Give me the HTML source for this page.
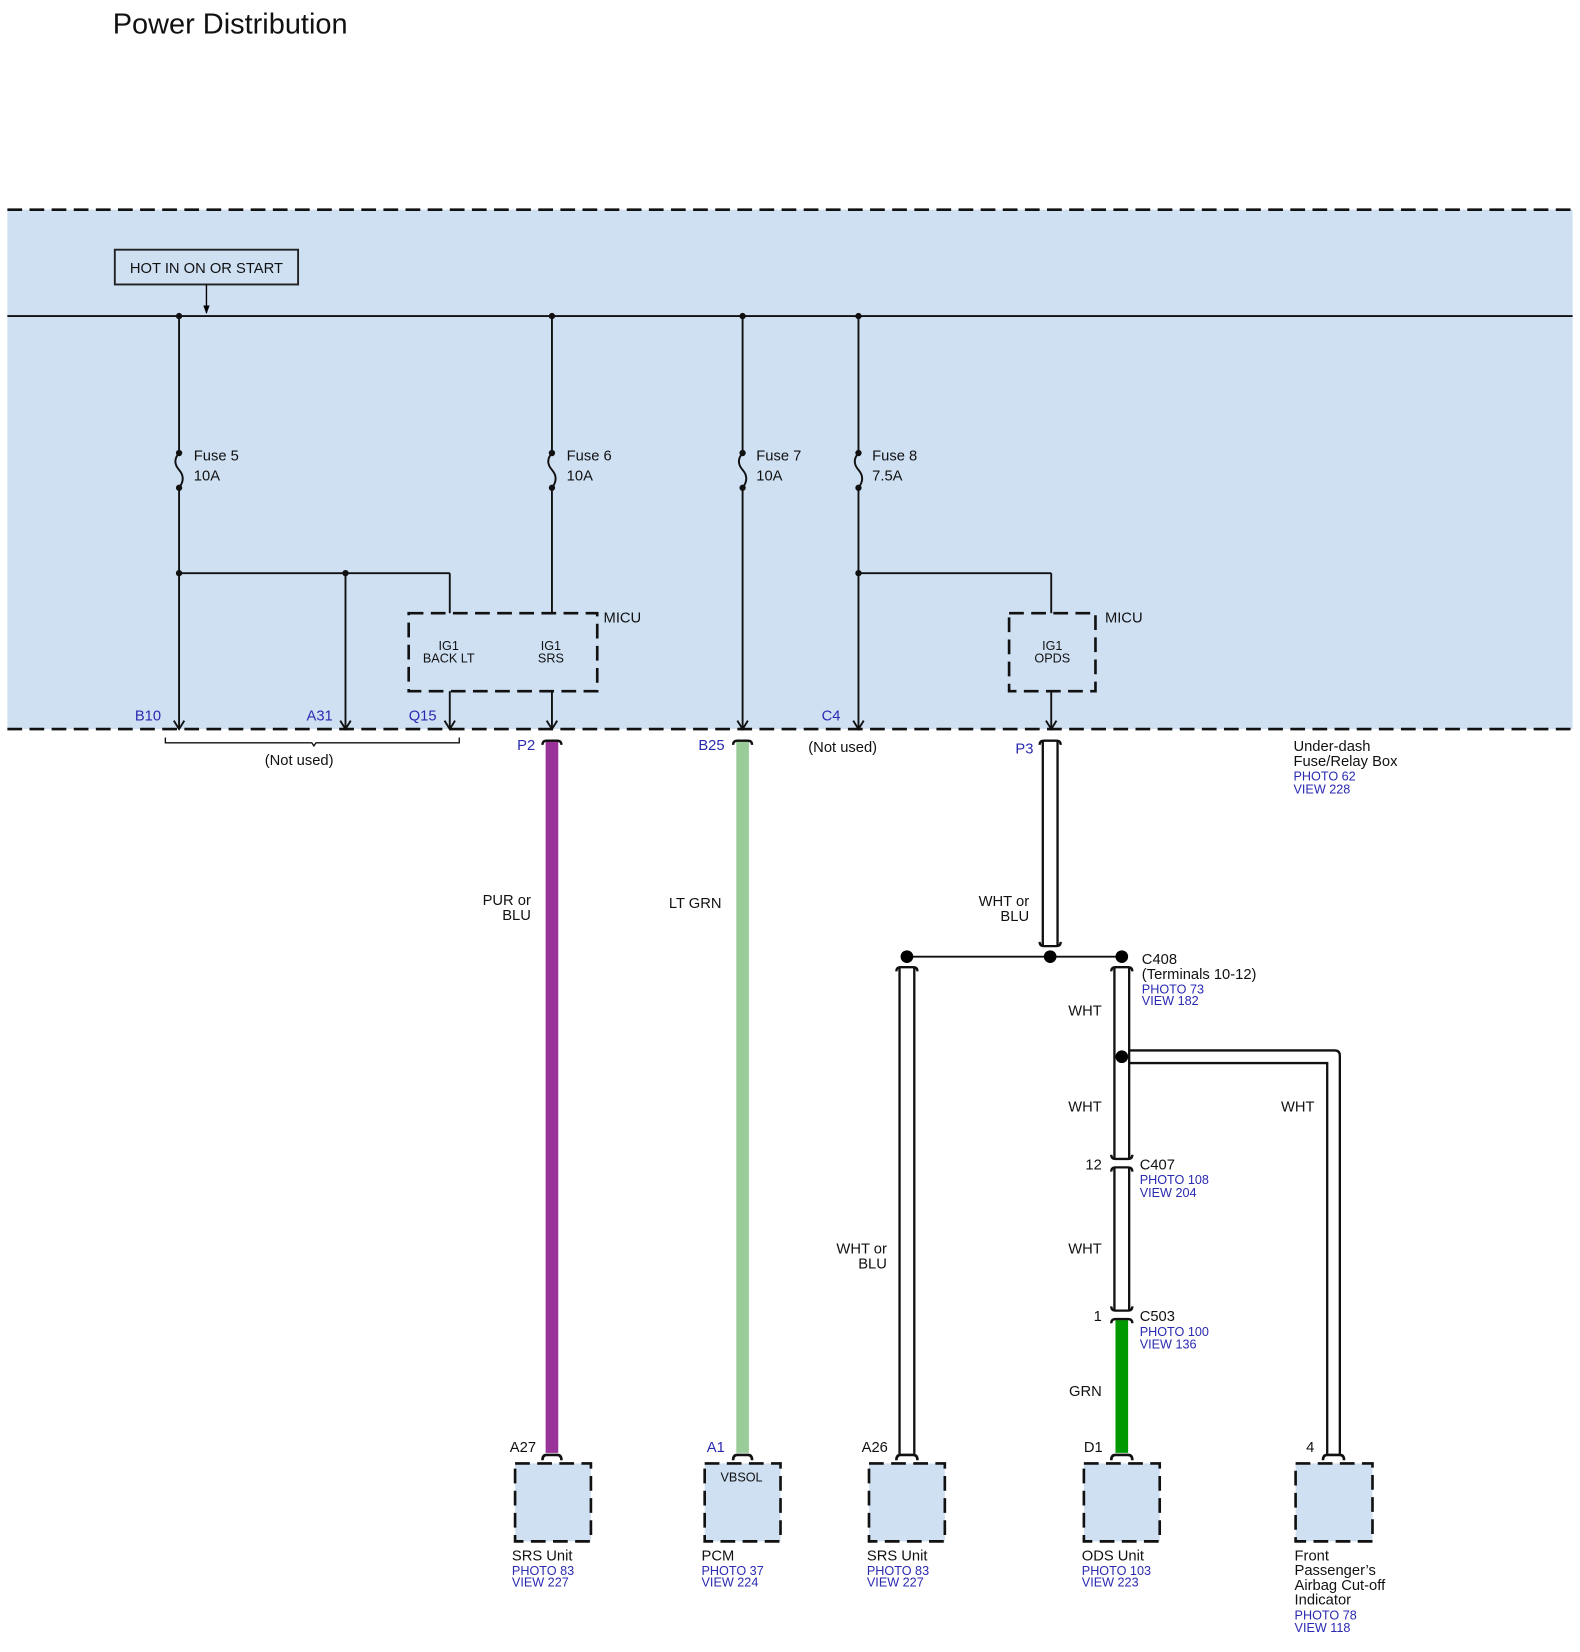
<!DOCTYPE html>
<html><head><meta charset="utf-8"><style>
html,body{margin:0;padding:0;background:#fff;}
svg{display:block;}
text{font-family:"Liberation Sans",Arial,sans-serif;fill:#111;}
.b{fill:#2a2ab0;}
.s{font-size:12px;}
.m{font-size:14px;}
</style></head><body>
<svg width="1580" height="1652" viewBox="0 0 1500 1568" preserveAspectRatio="none" xmlns="http://www.w3.org/2000/svg">
<text x="107" y="32" style="font-size:27.5px">Power Distribution</text>

<rect x="7" y="199" width="1486" height="493" fill="#cfe0f3"/>
<line x1="7" y1="199" x2="1493" y2="199" stroke="#111" stroke-width="2.5" stroke-dasharray="14,7"/>
<line x1="7" y1="692" x2="1493" y2="692" stroke="#111" stroke-width="2.5" stroke-dasharray="14,7"/>

<rect x="109" y="237" width="174" height="33" fill="none" stroke="#222" stroke-width="1.8"/>
<text x="196" y="259" text-anchor="middle" class="m">HOT IN ON OR START</text>
<line x1="196" y1="270" x2="196" y2="297" stroke="#000" stroke-width="1.3"/>
<path d="M193,290 L196,298 L199,290 Z" fill="#000"/>
<line x1="7" y1="300" x2="1493" y2="300" stroke="#111" stroke-width="1.8"/>

<g stroke="#111" stroke-width="1.8" fill="none">
<line x1="170" y1="300" x2="170" y2="430"/>
<path d="M170,430 q-7,8 0,16 q7,8 0,17"/>
<line x1="170" y1="463" x2="170" y2="692"/>
<line x1="170" y1="544" x2="427" y2="544"/>
<line x1="328" y1="544" x2="328" y2="692"/>
<line x1="427" y1="544" x2="427" y2="582"/>
<line x1="524" y1="300" x2="524" y2="430"/>
<path d="M524,430 q-7,8 0,16 q7,8 0,17"/>
<line x1="524" y1="463" x2="524" y2="582"/>
<line x1="427" y1="656" x2="427" y2="692"/>
<line x1="524" y1="656" x2="524" y2="692"/>
<line x1="705" y1="300" x2="705" y2="430"/>
<path d="M705,430 q-7,8 0,16 q7,8 0,17"/>
<line x1="705" y1="463" x2="705" y2="692"/>
<line x1="815" y1="300" x2="815" y2="430"/>
<path d="M815,430 q-7,8 0,16 q7,8 0,17"/>
<line x1="815" y1="463" x2="815" y2="692"/>
<line x1="815" y1="544" x2="998" y2="544"/>
<line x1="998" y1="544" x2="998" y2="582"/>
<line x1="998" y1="656" x2="998" y2="692"/>
</g>
<g stroke="#111" stroke-width="1.8" fill="none">
<path d="M165,684 L170,692 L175,684"/>
<path d="M323,684 L328,692 L333,684"/>
<path d="M422,684 L427,692 L432,684"/>
<path d="M519,684 L524,692 L529,684"/>
<path d="M700,684 L705,692 L710,684"/>
<path d="M810,684 L815,692 L820,684"/>
<path d="M993,684 L998,692 L1003,684"/>
</g>
<g fill="#111">
<circle cx="170" cy="300" r="3"/><circle cx="524" cy="300" r="3"/><circle cx="705" cy="300" r="3"/><circle cx="815" cy="300" r="3"/>
<circle cx="170" cy="430" r="3"/><circle cx="170" cy="463" r="3"/>
<circle cx="524" cy="430" r="3"/><circle cx="524" cy="463" r="3"/>
<circle cx="705" cy="430" r="3"/><circle cx="705" cy="463" r="3"/>
<circle cx="815" cy="430" r="3"/><circle cx="815" cy="463" r="3"/>
<circle cx="170" cy="544" r="3"/><circle cx="328" cy="544" r="3"/><circle cx="815" cy="544" r="3"/>
</g>
<text x="184" y="437" class="m">Fuse 5</text><text x="184" y="456" class="m">10A</text>
<text x="538" y="437" class="m">Fuse 6</text><text x="538" y="456" class="m">10A</text>
<text x="718" y="437" class="m">Fuse 7</text><text x="718" y="456" class="m">10A</text>
<text x="828" y="437" class="m">Fuse 8</text><text x="828" y="456" class="m">7.5A</text>

<rect x="388" y="582" width="179" height="74" fill="none" stroke="#111" stroke-width="2.5" stroke-dasharray="14,7"/>
<text x="573" y="591" class="m">MICU</text>
<text x="426" y="617" text-anchor="middle" class="s">IG1</text><text x="426" y="629" text-anchor="middle" class="s">BACK LT</text>
<text x="523" y="617" text-anchor="middle" class="s">IG1</text><text x="523" y="629" text-anchor="middle" class="s">SRS</text>
<rect x="958" y="582" width="82" height="74" fill="none" stroke="#111" stroke-width="2.5" stroke-dasharray="14,7"/>
<text x="1049" y="591" class="m">MICU</text>
<text x="999" y="617" text-anchor="middle" class="s">IG1</text><text x="999" y="629" text-anchor="middle" class="s">OPDS</text>

<text x="128" y="684" class="b m">B10</text>
<text x="291" y="684" class="b m">A31</text>
<text x="388" y="684" class="b m">Q15</text>
<text x="780" y="684" class="b m">C4</text>
<text x="491" y="712" class="b m">P2</text>
<text x="663" y="712" class="b m">B25</text>
<text x="964" y="715" class="b m">P3</text>
<path d="M157,700 v5 h139 l2,3 l2,-3 h136 v-5" fill="none" stroke="#111" stroke-width="1.3"/>
<text x="284" y="726" text-anchor="middle" class="m">(Not used)</text>
<text x="800" y="714" text-anchor="middle" class="m">(Not used)</text>
<text x="1228" y="713" class="m">Under-dash</text>
<text x="1228" y="727" class="m">Fuse/Relay Box</text>
<text x="1228" y="741" class="b s">PHOTO 62</text>
<text x="1228" y="753" class="b s">VIEW 228</text>

<rect x="518" y="703" width="12" height="676" fill="#993399"/>
<rect x="699" y="703" width="12" height="676" fill="#99cc99"/>
<rect x="1059" y="1253" width="12" height="126" fill="#009900"/>
<g stroke="#111" stroke-width="2.2" fill="none">
<path d="M990,703 V898 M1004,703 V898"/>
<path d="M854,918 V1380 M868,918 V1380"/>
<path d="M1058,918 V1100 M1072,918 V1100"/>
<path d="M1058,1108 V1244 M1072,1108 V1244"/>
<path d="M1072,997 H1267 q5,0 5,5 V1380 M1072,1009 H1260 V1380"/>
<line x1="861" y1="908" x2="1065" y2="908" stroke-width="1.8"/>
<path d="M515,707 q0,-4 4,-4 h10 q4,0 4,4"/>
<path d="M696,707 q0,-4 4,-4 h10 q4,0 4,4"/>
<path d="M987,707 q0,-4 4,-4 h12 q4,0 4,4"/>
<path d="M987,894 q0,4 4,4 h12 q4,0 4,-4"/>
<path d="M851,922 q0,-4 4,-4 h12 q4,0 4,4"/>
<path d="M1055,922 q0,-4 4,-4 h12 q4,0 4,4"/>
<path d="M1055,1096 q0,4 4,4 h12 q4,0 4,-4"/>
<path d="M1055,1112 q0,-4 4,-4 h12 q4,0 4,4"/>
<path d="M1055,1240 q0,4 4,4 h12 q4,0 4,-4"/>
<path d="M1055,1256 q0,-4 4,-4 h12 q4,0 4,4"/>
<path d="M515,1386 q0,-5 4,-5 h10 q4,0 4,5" stroke-width="2.5"/>
<path d="M696,1386 q0,-5 4,-5 h10 q4,0 4,5" stroke-width="2.5"/>
<path d="M851,1386 q0,-5 4,-5 h12 q4,0 4,5" stroke-width="2.5"/>
<path d="M1055,1386 q0,-5 4,-5 h12 q4,0 4,5" stroke-width="2.5"/>
<path d="M1256,1386 q0,-5 4,-5 h12 q4,0 4,5" stroke-width="2.5"/>
</g>
<g fill="#000">
<circle cx="861" cy="908" r="6"/><circle cx="997" cy="908" r="6"/><circle cx="1065" cy="908" r="6"/><circle cx="1065" cy="1003" r="6"/>
</g>

<text x="504" y="859" text-anchor="end" class="m">PUR or</text><text x="504" y="873" text-anchor="end" class="m">BLU</text>
<text x="685" y="862" text-anchor="end" class="m">LT GRN</text>
<text x="977" y="860" text-anchor="end" class="m">WHT or</text><text x="977" y="874" text-anchor="end" class="m">BLU</text>
<text x="842" y="1190" text-anchor="end" class="m">WHT or</text><text x="842" y="1204" text-anchor="end" class="m">BLU</text>
<text x="1084" y="915" class="m">C408</text>
<text x="1084" y="929" class="m">(Terminals 10-12)</text>
<text x="1084" y="943" class="b s">PHOTO 73</text>
<text x="1084" y="954" class="b s">VIEW 182</text>
<text x="1046" y="964" text-anchor="end" class="m">WHT</text>
<text x="1046" y="1055" text-anchor="end" class="m">WHT</text>
<text x="1248" y="1055" text-anchor="end" class="m">WHT</text>
<text x="1046" y="1110" text-anchor="end" class="m">12</text>
<text x="1082" y="1110" class="m">C407</text>
<text x="1082" y="1124" class="b s">PHOTO 108</text>
<text x="1082" y="1136" class="b s">VIEW 204</text>
<text x="1046" y="1190" text-anchor="end" class="m">WHT</text>
<text x="1046" y="1254" text-anchor="end" class="m">1</text>
<text x="1082" y="1254" class="m">C503</text>
<text x="1082" y="1268" class="b s">PHOTO 100</text>
<text x="1082" y="1280" class="b s">VIEW 136</text>
<text x="1046" y="1325" text-anchor="end" class="m">GRN</text>

<g fill="#cfe0f3" stroke="#111" stroke-width="2.5" stroke-dasharray="14,7">
<rect x="489" y="1389" width="72" height="74"/>
<rect x="669" y="1389" width="72" height="74"/>
<rect x="825" y="1389" width="72" height="74"/>
<rect x="1029" y="1389" width="72" height="74"/>
<rect x="1230" y="1389" width="73" height="74"/>
</g>
<text x="704" y="1406" text-anchor="middle" class="s">VBSOL</text>
<text x="484" y="1378" class="m">A27</text>
<text x="671" y="1378" class="b m">A1</text>
<text x="818" y="1378" class="m">A26</text>
<text x="1029" y="1378" class="m">D1</text>
<text x="1240" y="1378" class="m">4</text>

<text x="486" y="1481" class="m">SRS Unit</text><text x="486" y="1495" class="b s">PHOTO 83</text><text x="486" y="1506" class="b s">VIEW 227</text>
<text x="666" y="1481" class="m">PCM</text><text x="666" y="1495" class="b s">PHOTO 37</text><text x="666" y="1506" class="b s">VIEW 224</text>
<text x="823" y="1481" class="m">SRS Unit</text><text x="823" y="1495" class="b s">PHOTO 83</text><text x="823" y="1506" class="b s">VIEW 227</text>
<text x="1027" y="1481" class="m">ODS Unit</text><text x="1027" y="1495" class="b s">PHOTO 103</text><text x="1027" y="1506" class="b s">VIEW 223</text>
<text x="1229" y="1481" class="m">Front</text>
<text x="1229" y="1495" class="m">Passenger’s</text>
<text x="1229" y="1509" class="m">Airbag Cut-off</text>
<text x="1229" y="1523" class="m">Indicator</text>
<text x="1229" y="1537" class="b s">PHOTO 78</text>
<text x="1229" y="1549" class="b s">VIEW 118</text>
</svg>
</body></html>
